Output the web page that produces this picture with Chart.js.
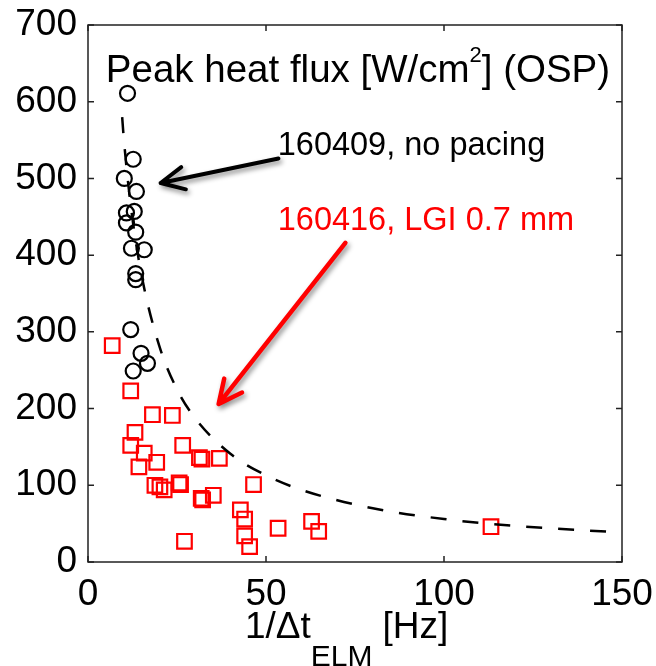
<!DOCTYPE html>
<html>
<head>
<meta charset="utf-8">
<script src="https://cdn.jsdelivr.net/npm/chart.js@4"></script>
<style>
  html, body { margin: 0; padding: 0; background: #fff; }
  #wrap { width: 656px; height: 666px; }
</style>
</head>
<body>
<div id="wrap"><canvas id="heatChart" width="656" height="666"></canvas></div>
<script>
// shot 160409, no pacing (black circles)
const noPacingX = [11.1, 12.7, 10.2, 13.6, 10.8, 13.0, 10.8, 13.4, 12.2, 15.8, 13.4, 13.4, 12.0, 14.9, 16.7, 12.7]
const noPacingY = [611, 525, 500, 483, 455, 457, 442, 430, 409, 407, 376, 368, 303, 272, 259, 249]

// shot 160416, LGI 0.7 mm (red squares)
const lgiX = [6.8, 12.0, 18.1, 23.7, 13.2, 12.0, 15.8, 19.3, 14.3, 26.6, 31.3, 32.0, 36.9,
  18.8, 20.2, 21.4, 25.6, 26.0, 31.8, 32.2, 35.2, 46.5, 42.8, 44.0, 44.0, 45.4, 27.1, 53.4, 62.8, 64.8, 113.2]
const lgiY = [282, 223, 192, 191, 169, 152, 142, 130, 124, 152, 136, 134, 135,
  100, 98, 94, 103, 101, 83, 81, 87, 101, 68, 56, 34, 20, 27, 44, 53, 40, 46]

// dashed trend curve
const fitX = [9.6, 10, 12, 15, 20, 25, 30, 40, 50, 60, 80, 100, 120, 148]
const fitY = [580, 555, 465, 375, 282, 225, 188, 141, 113, 94, 70, 56, 47, 39]

const xTicks = [0, 50, 100, 150]
const yTicks = [0, 100, 200, 300, 400, 500, 600, 700]

const FONT = '"Liberation Sans", Arial, Helvetica, sans-serif'

const toPts = (xs, ys) => xs.map((x, i) => ({ x: x, y: ys[i] }))

// box, mirrored inward ticks, texts and arrows
const decor = {
  id: 'decor',
  afterDraw(chart) {
    const { ctx, chartArea: a, scales } = chart
    const sx = scales.x, sy = scales.y
    const px = v => sx.getPixelForValue(v)
    const py = v => sy.getPixelForValue(v)
    ctx.save()

    ctx.strokeStyle = '#222'
    ctx.lineWidth = 1.5
    ctx.strokeRect(a.left, a.top, a.right - a.left, a.bottom - a.top)
    const tl = 6
    ctx.beginPath()
    xTicks.forEach(v => {
      const x = px(v)
      ctx.moveTo(x, a.bottom); ctx.lineTo(x, a.bottom - tl)
      ctx.moveTo(x, a.top); ctx.lineTo(x, a.top + tl)
    })
    yTicks.forEach(v => {
      const y = py(v)
      ctx.moveTo(a.left, y); ctx.lineTo(a.left + tl, y)
      ctx.moveTo(a.right, y); ctx.lineTo(a.right - tl, y)
    })
    ctx.stroke()

    // title inside the plot
    ctx.fillStyle = '#000'
    ctx.textBaseline = 'alphabetic'
    ctx.textAlign = 'left'
    let tx = px(5.0), ty = py(626)
    ctx.font = '38.5px ' + FONT
    const t1 = 'Peak heat flux [W/cm'
    ctx.fillText(t1, tx, ty)
    tx += ctx.measureText(t1).width
    ctx.font = '22px ' + FONT
    ctx.fillText('2', tx, ty - 20)
    tx += ctx.measureText('2').width
    ctx.font = '38.5px ' + FONT
    ctx.fillText('] (OSP)', tx, ty)

    // labels
    ctx.font = '32.5px ' + FONT
    ctx.fillStyle = '#000'
    ctx.fillText('160409, no pacing', px(53.3), py(531))
    ctx.fillStyle = '#ff0000'
    ctx.fillText('160416, LGI 0.7 mm', px(53.3), py(433))

    // arrows
    const arrow = (x0, y0, x1, y1, color, w) => {
      const ang = Math.atan2(y1 - y0, x1 - x0)
      const hl = 26, spread = 0.45
      ctx.save()
      ctx.shadowColor = 'rgba(0,0,0,0.45)'
      ctx.shadowBlur = 5
      ctx.shadowOffsetX = 2
      ctx.shadowOffsetY = 3
      ctx.strokeStyle = color
      ctx.lineWidth = w
      ctx.lineCap = 'round'
      ctx.lineJoin = 'round'
      ctx.beginPath()
      ctx.moveTo(x0, y0); ctx.lineTo(x1, y1)
      ctx.moveTo(x1 - hl * Math.cos(ang - spread), y1 - hl * Math.sin(ang - spread))
      ctx.lineTo(x1, y1)
      ctx.lineTo(x1 - hl * Math.cos(ang + spread), y1 - hl * Math.sin(ang + spread))
      ctx.stroke()
      ctx.restore()
    }
    arrow(px(53.5), py(526), px(20.4), py(494), '#000', 4)
    arrow(px(72.3), py(416), px(36.7), py(206), '#ff0000', 4.5)

    // x axis title with subscript
    ctx.fillStyle = '#000'
    ctx.font = '37px ' + FONT
    let ax = 245
    const axY = 638
    ctx.fillText('1/\u0394t', ax, axY)
    ax += ctx.measureText('1/\u0394t').width
    ctx.font = '30px ' + FONT
    ctx.fillText('ELM', ax, axY + 28)
    ax += ctx.measureText('ELM').width + 10
    ctx.font = '37px ' + FONT
    ctx.fillText('[Hz]', ax, axY)

    ctx.restore()
  }
}

new Chart(document.getElementById('heatChart').getContext('2d'), {
  type: 'scatter',
  data: {
    datasets: [
      {
        label: 'fit',
        data: toPts(fitX, fitY),
        showLine: true,
        borderColor: '#000',
        borderWidth: 2.5,
        borderDash: [16, 16],
        cubicInterpolationMode: 'monotone',
        pointRadius: 0
      },
      {
        label: '160409, no pacing',
        data: toPts(noPacingX, noPacingY),
        pointStyle: 'circle',
        pointRadius: 7.5,
        pointBorderWidth: 2.2,
        borderColor: '#000',
        backgroundColor: 'rgba(0,0,0,0)'
      },
      {
        label: '160416, LGI 0.7 mm',
        data: toPts(lgiX, lgiY),
        pointStyle: 'rect',
        pointRadius: 10.3,
        pointBorderWidth: 2.2,
        borderColor: '#ff0000',
        backgroundColor: 'rgba(0,0,0,0)'
      }
    ]
  },
  options: {
    responsive: false,
    animation: false,
    layout: { padding: { top: 25, right: 34, left: 0, bottom: 0 } },
    plugins: { legend: { display: false }, tooltip: { enabled: false } },
    scales: {
      x: {
        type: 'linear', min: 0, max: 150,
        afterBuildTicks: s => { s.ticks = xTicks.map(v => ({ value: v })) },
        afterFit: s => { s.height = 104; s.paddingLeft = 0; s.paddingRight = 0 },
        grid: { display: false, drawTicks: false }, border: { display: false },
        ticks: { color: '#000', padding: 11, font: { family: FONT, size: 37 } }
      },
      y: {
        type: 'linear', min: 0, max: 700,
        afterBuildTicks: s => { s.ticks = yTicks.map(v => ({ value: v })) },
        afterFit: s => { s.width = 88; s.paddingTop = 0; s.paddingBottom = 0 },
        grid: { display: false, drawTicks: false }, border: { display: false },
        ticks: { color: '#000', padding: 11, font: { family: FONT, size: 37 } }
      }
    }
  },
  plugins: [decor]
})
</script>
</body>
</html>
